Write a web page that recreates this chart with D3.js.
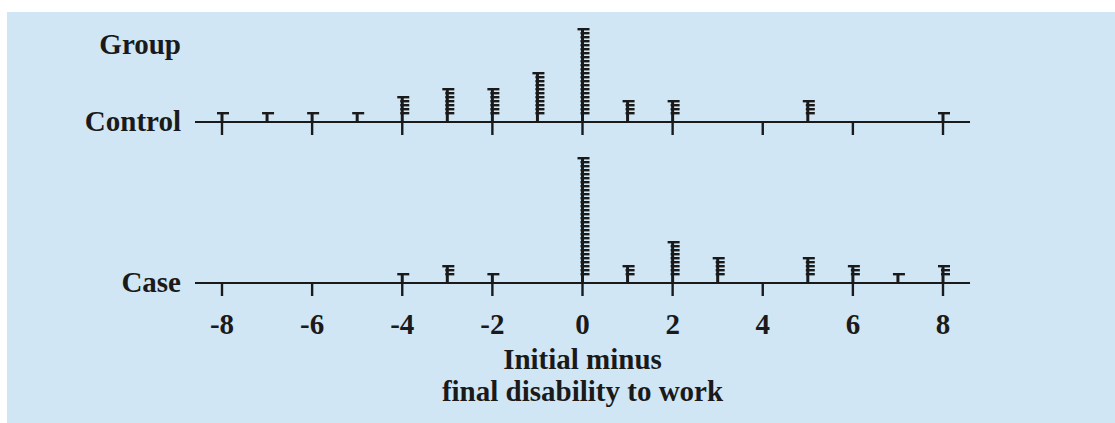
<!DOCTYPE html>
<html><head><meta charset="utf-8">
<script src="https://cdn.jsdelivr.net/npm/d3@7"></script>
<style>html,body{margin:0;padding:0;background:#fff;}svg{display:block;}</style>
</head><body>
<script>
const groups = ["Control", "Case"];
const xTicks = [-8, -6, -4, -2, 0, 2, 4, 6, 8];
const controlValues = [-8, -7, -6, -5, -4, -3, -2, -1, 0, 1, 2, 5, 8];
const controlCounts = [1, 1, 1, 1, 5, 7, 7, 11, 22, 4, 4, 4, 1];
const caseValues = [-4, -3, -2, 0, 1, 2, 3, 5, 6, 7, 8];
const caseCounts = [1, 3, 1, 30, 3, 9, 5, 5, 3, 1, 3];
const xTitle = ["Initial minus", "final disability to work"];
const yTitle = "Group";

const W = 1115, H = 423;
const svg = d3.select("body").append("svg").attr("width", W).attr("height", H);
svg.append("rect").attr("x", 7).attr("y", 12).attr("width", W - 7).attr("height", H - 12).attr("fill", "#d0e6f4");

const x = d3.scaleLinear().domain([-8, 8]).range([222, 943]);
const baseY = d3.scalePoint().domain(groups).range([122, 283]);
const font = "'Liberation Serif', 'Times New Roman', serif";
const ink = "#1a1a1a";
const fs = 29;
const pitch = 4; // px per stacked observation

const series = {
  Control: controlValues.map((v, i) => ({v, n: controlCounts[i]})),
  Case: caseValues.map((v, i) => ({v, n: caseCounts[i]}))
};

groups.forEach(g => {
  const y0 = baseY(g);
  svg.append("line").attr("x1", x(-8) - 27).attr("x2", x(8) + 27)
    .attr("y1", y0).attr("y2", y0).attr("stroke", ink).attr("stroke-width", 2);
  svg.selectAll(null).data(xTicks).enter().append("line")
    .attr("x1", d => x(d)).attr("x2", d => x(d))
    .attr("y1", y0).attr("y2", y0 + 13)
    .attr("stroke", ink).attr("stroke-width", 2.4);
  svg.append("text").attr("x", 181).attr("y", y0 + 9).attr("text-anchor", "end")
    .attr("font-family", font).attr("font-weight", "bold").attr("font-size", fs)
    .attr("fill", ink).text(g);
  const cols = svg.selectAll(null).data(series[g]).enter().append("g")
    .attr("transform", d => `translate(${x(d.v)},${y0})`);
  cols.append("line").attr("x1", 0).attr("x2", 0).attr("y1", 0)
    .attr("y2", d => -(10 + pitch * (d.n - 1)))
    .attr("stroke", ink).attr("stroke-width", 3);
  cols.each(function(d) {
    const sel = d3.select(this);
    const ys = d3.range(d.n).map(i => -(10 + pitch * i) + 1.2);
    sel.selectAll("line.bar").data(ys).enter().append("line").attr("class", "bar")
      .attr("x1", (yy, i) => i === d.n - 1 ? -5 : -2).attr("x2", 7)
      .attr("y1", yy => yy).attr("y2", yy => yy)
      .attr("stroke", ink).attr("stroke-width", 2.4);
  });
});

svg.selectAll(null).data(xTicks).enter().append("text")
  .attr("x", d => x(d)).attr("y", 334).attr("text-anchor", "middle")
  .attr("font-family", font).attr("font-weight", "bold").attr("font-size", fs)
  .attr("fill", ink).text(d => d);

svg.append("text").attr("x", 181).attr("y", 54).attr("text-anchor", "end")
  .attr("font-family", font).attr("font-weight", "bold").attr("font-size", fs)
  .attr("fill", ink).text(yTitle);

svg.selectAll(null).data(xTitle).enter().append("text")
  .attr("x", x(0)).attr("y", (d, i) => 369 + i * 32).attr("text-anchor", "middle")
  .attr("font-family", font).attr("font-weight", "bold").attr("font-size", fs)
  .attr("fill", ink).text(d => d);
</script>
</body></html>
